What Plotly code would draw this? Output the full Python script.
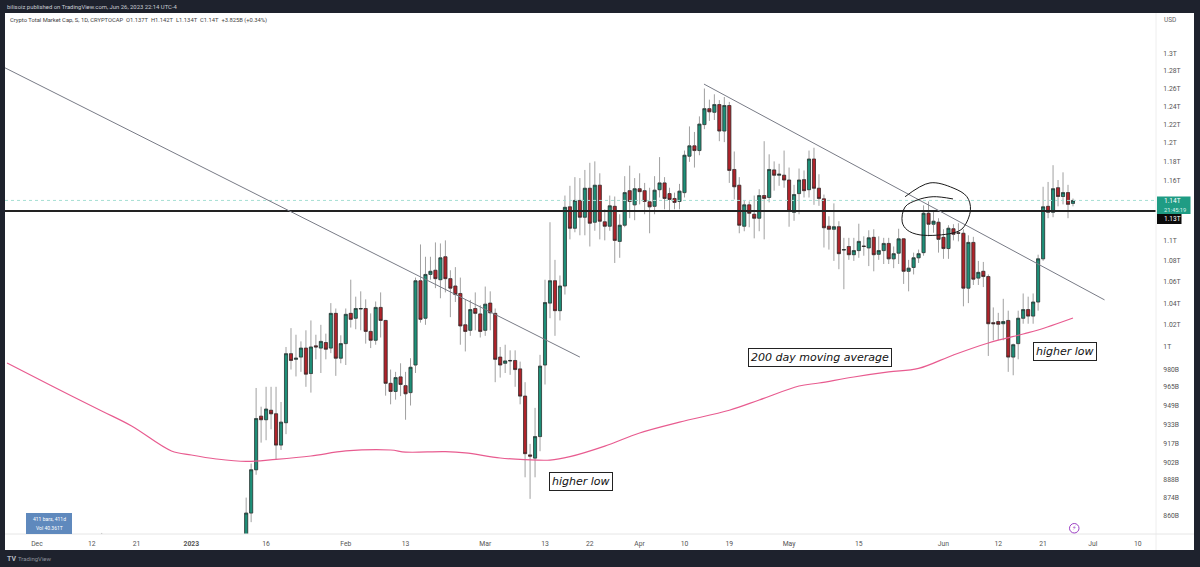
import numpy as np
import pandas as pd
import plotly.graph_objects as go

# ---------- data (billions USD) ----------
dates = ["2022-12-14"] + [d.strftime("%Y-%m-%d") for d in pd.date_range("2023-01-12", "2023-06-27")]

opens = [840,
 842,862,896,940,937,945,942,916,934.5,994,
 989,991,999,976.5,1001,999,1004,999,1030.5,990,
 1003,1030.5,1026,1034.5,1035,1014,1006,1036,1024,968,
 961,973.6,966,960,984,1061,1026,1067,1071,1062,
 1084,1063,1056,1049,1020,1015,1035,1030,1015,1040,
 1030.5,991,985.5,987.5,988,980.6,957,908,905.4,923,
 984,1040,1061,1033,1056,1133.5,1112,1140,1123,1152.5,
 1118,1155.6,1118.4,1114,1134,1099,1115,1150,1135.5,1152,
 1150,1138.6,1134,1151,1158,1147,1142,1139,1148,1186,
 1197,1192,1220,1237.5,1233.5,1242,1213,1241,1172,1155.6,
 1114,1135.5,1126,1122,1145,1143,1171.5,1166,1166,1161,
 1128,1147,1161.4,1151,1183,1152.5,1141.6,1114,1111,1113.5,
 1090.5,1094,1086,1090,1094.5,1092.6,1103,1086.4,1090,1097,
 1082,1087.5,1101.5,1070,1073.7,1083,1088,1127,1116,1118,
 1103,1092,1111.5,1107.5,1107,1054,1098,1063.5,1070,1065,
 1022,1023,1021,1024,991,1003,1026,1034,1028,1041,
 1082,1134,1128,1153,1144,1148,1137]

highs = [846.8,
 874,901,964,948,965,965,965,952,1000,1017,
 1011,1005,1015,1024,1011,1020,1012,1040,1035,1010.5,
 1035,1062,1046,1051,1043.5,1030.5,1041.5,1050,1024.5,980,
 978,985.5,978,990,1064,1096,1084,1084,1098,1097,
 1100,1071,1074,1064,1043,1043,1050,1038,1055.5,1051,
 1035,1000,1002,997,997,987,969,917,947,993,
 1062,1118,1081,1066,1145,1155,1164,1163,1171.5,1179,
 1180.5,1168,1131,1145,1144,1126,1165,1176,1163,1168,
 1158,1153,1165,1185,1164,1153,1148,1157,1192,1218,
 1212,1229,1260,1247.5,1253.5,1247,1250.5,1245,1191,1164,
 1140,1139,1145,1151.5,1202,1188,1180.5,1178,1192,1174,
 1156,1173,1171,1192,1195,1167,1146,1124,1137,1119,
 1102.5,1102.5,1102.5,1116.5,1104,1110,1111,1104,1102.5,1102.5,
 1094,1111.5,1102,1081,1088,1091,1135,1139,1130,1122,
 1111,1115,1116,1117,1111,1105,1103.5,1080,1079,1067,
 1036,1031,1044,1033,1003,1033,1049,1046,1049,1086,
 1154,1159,1176.5,1161,1169,1156,1142]

lows = [830,
 834,855,892,918,920,929,904,912,925,980,
 974,978,965,960,989,977,989,994.5,974.5,985.5,
 984,1017.5,1016,1015,1003,999,1002,1008.5,957.4,950,
 954,957,937,949,977,1022,1020,1062,1054,1044.5,
 1050,1027,1041,1002,996,1010,1015,1008.5,1010,1015,
 969,973,977,975.4,965,950,890,873,890,911,
 967,1026,1010,1024,1048,1101,1108,1105,1105,1094,
 1109.5,1101,1100,1109.5,1078,1083,1113,1122,1120,1136,
 1126,1107,1126,1143,1131,1129,1131,1131,1143,1180,
 1174,1187,1215,1224,1225,1202,1201,1158,1141,1107,
 1109,1113,1102,1109,1101,1138,1150,1155,1153,1113.5,
 1119.4,1126,1143,1143,1135.5,1134.5,1093,1091,1080,1072,
 1053,1081,1080,1083,1085,1075,1070,1081,1077,1077,
 1073,1077,1058,1051,1067,1078,1085,1104,1107.5,1088,
 1082,1082,1100,1099,1037,1040,1057,1057,1055,992,
 1006,1006,1006,978,975,989,1021,1021,1021,1033,
 1080,1122,1123,1134,1136,1122,1134]

closes = [838,
 862,896,938,937,946,942,916,935,994,988,
 990,999,976,1000,1000,1005,998,1030.5,990,1003,
 1029.6,1025,1035,1035,1014,1006,1036,1024,968,961,
 973,967,959,982,1061,1025,1067,1070,1063,1083,
 1063,1054,1048,1019,1014,1034,1030.5,1014,1039,1031,
 989,984,987.6,988,980,957,909,907,923,983,
 1040.5,1061,1033,1056,1133,1112,1140,1123,1152.5,1117,
 1155.6,1119,1114,1134.5,1100,1115,1148,1139,1152,1149,
 1139,1133.5,1150.5,1158,1142,1141,1138,1149.5,1187,1197,
 1192,1220.5,1237.5,1234,1242,1213,1241,1171,1154,1115,
 1135.5,1127,1122,1145,1142,1172,1166,1167,1161,1129,
 1146,1161,1150,1183,1152.5,1142,1112.5,1111,1113.5,1087,
 1091,1086,1090,1099,1094,1102.5,1086,1090,1097,1082,
 1087,1101.5,1070,1073,1083,1087,1127,1116,1119,1101,
 1092,1112,1106,1107,1054,1098,1062.5,1069,1065,1021,
 1021,1020.5,1023,991,1002,1026,1034,1028,1041,1082,
 1133.5,1128,1152,1144,1148,1136,1140]

ma200_dates = ["2022-11-25","2022-12-04","2022-12-14","2022-12-20","2022-12-28","2023-01-01",
               "2023-01-06","2023-01-12","2023-01-18","2023-01-25","2023-02-01","2023-02-10",
               "2023-02-13","2023-02-21","2023-02-25","2023-03-04","2023-03-09","2023-03-14",
               "2023-03-18","2023-03-25","2023-04-01","2023-04-09","2023-04-19","2023-04-25",
               "2023-05-03","2023-05-07","2023-05-14","2023-05-21","2023-05-27","2023-06-03",
               "2023-06-10","2023-06-17","2023-06-20","2023-06-27"]
ma200_values = [985.8,965.7,944.4,931.8,911.2,907.9,
                904.7,902.7,904.4,907.1,911.2,912,
                910.3,910.6,909.6,905.5,904.2,903.8,
                906.6,915.2,926,935,945,953.7,
                965.7,968.3,973.5,977.9,981,992.9,
                1003.6,1011.7,1015.3,1026.3]

trend1_dates = ["2022-11-24 14:00","2023-03-20 00:00"]
trend1_values = [1283.5,991]
trend2_dates = ["2023-04-13 22:00","2023-07-03 08:00"]
trend2_values = [1265,1043]

level_dates = ["2022-11-24 14:00","2023-07-13 16:00"]
support_level = [1129.3,1129.3]
last_price = [1140,1140]

circle_dates = ["2023-05-24 07:00","2023-05-29 07:00","2023-06-02 22:00","2023-06-05 17:00","2023-06-06 10:00",
                "2023-06-04 22:00","2023-06-02 22:00","2023-05-27 07:00","2023-05-24 17:00","2023-05-23 17:00",
                "2023-05-24 07:00","2023-05-26 17:00","2023-05-29 22:00","2023-06-02 22:00"]
circle_values = [1143.8,1158,1152.8,1143.8,1130.4,
                 1112.3,1107.3,1105.4,1110.3,1118.3,
                 1133.4,1140.4,1143.8,1141.5]

x_tick_dates = ["2022-12-01","2022-12-12","2022-12-21","2023-01-01","2023-01-16","2023-02-01","2023-02-13",
                "2023-03-01","2023-03-13","2023-03-22","2023-04-01","2023-04-10","2023-04-19","2023-05-01",
                "2023-05-15","2023-06-01","2023-06-12","2023-06-21","2023-07-01","2023-07-10"]
x_tick_text = ["Dec","12","21","<b>2023</b>","16","Feb","13","Mar","13","22","Apr","10","19","May",
               "15","Jun","12","21","Jul","10"]
y_tick_vals = [1300,1280,1260,1240,1220,1200,1180,1160,1100,1080,1060,1040,1020,1000,
               980,965,949,933,917,902,888,874,860]
y_tick_text = ["1.3T","1.28T","1.26T","1.24T","1.22T","1.2T","1.18T","1.16T","1.1T","1.08T","1.06T",
               "1.04T","1.02T","1T","980B","965B","949B","933B","917B","902B","888B","874B","860B"]

# ---------- styling ----------
GREEN, RED, EDGE = "#1e8f78", "#b0232a", "#262626"
DARK = "#1e222d"
FONT = "Roboto"
W, H = 1200, 567
L, R, T, B = 5, 1156, 13, 534

def fx(px):
    return (px - L) / (R - L)

def fy(py):
    return (B - py) / (B - T)

o, c = np.array(opens), np.array(closes)
fig = go.Figure()

# wicks in grey
fig.add_trace(go.Candlestick(x=dates, open=opens, high=highs, low=lows, close=closes,
                             increasing=dict(line=dict(color="#a0a0a0", width=1), fillcolor="#a0a0a0"),
                             decreasing=dict(line=dict(color="#a0a0a0", width=1), fillcolor="#a0a0a0"),
                             whiskerwidth=0, hoverinfo="skip", showlegend=False))
# bodies with dark outline
fig.add_trace(go.Candlestick(x=dates, open=opens, close=closes,
                             high=np.maximum(o, c), low=np.minimum(o, c),
                             increasing=dict(line=dict(color=EDGE, width=0.6), fillcolor=GREEN),
                             decreasing=dict(line=dict(color=EDGE, width=0.6), fillcolor=RED),
                             whiskerwidth=0, hoverinfo="skip", showlegend=False))

def line(xs, ys, color, width, dash="solid", shape="linear"):
    fig.add_trace(go.Scatter(x=xs, y=ys, mode="lines", hoverinfo="skip", showlegend=False,
                             line=dict(color=color, width=width, dash=dash, shape=shape)))

line(level_dates, last_price, "#a6dfd3", 1, "dot")
line(level_dates, support_level, "#222222", 2.2)
line(ma200_dates, ma200_values, "#e85c90", 1.2, shape="spline")
line(trend1_dates, trend1_values, "#787b86", 1)
line(trend2_dates, trend2_values, "#787b86", 1)
line(circle_dates, circle_values, "#1a1a1a", 1, shape="spline")

shapes = [
    dict(type="rect", xref="paper", yref="paper", x0=fx(5), x1=fx(1194), y0=fy(550), y1=fy(13),
         fillcolor="white", line_width=0, layer="below"),
    dict(type="line", xref="paper", yref="paper", x0=fx(1156), x1=fx(1156), y0=fy(550), y1=fy(13),
         line=dict(color="#eeeeee", width=1)),
    dict(type="line", xref="paper", yref="paper", x0=fx(5), x1=fx(1194), y0=fy(534), y1=fy(534),
         line=dict(color="#e6e6e6", width=1)),
    dict(type="rect", xref="paper", yref="paper", x0=fx(1157), x1=fx(1190.5), y0=fy(214), y1=fy(196.5),
         fillcolor="#1f9c84", line_width=0),
    dict(type="rect", xref="paper", yref="paper", x0=fx(1157), x1=fx(1181.5), y0=fy(224), y1=fy(214),
         fillcolor="#0b0b0b", line_width=0),
    dict(type="rect", xref="paper", yref="paper", x0=fx(26), x1=fx(72), y0=fy(534), y1=fy(513),
         fillcolor="#5f89bd", line_width=0),
    dict(type="circle", xref="paper", yref="paper", x0=fx(1069.5), x1=fx(1079), y0=fy(533), y1=fy(523.5),
         fillcolor="white", line=dict(color="#9c3fc4", width=1)),
]

def note(px, py, text, size=6.5, color="#555555", anchor="left", **kw):
    return dict(xref="paper", yref="paper", x=fx(px), y=fy(py), text=text, showarrow=False,
                xanchor=anchor, yanchor="middle", font=dict(family=kw.pop("family", FONT), size=size, color=color), **kw)

def boxed(px, py, text):
    return note(px, py, "<i>" + text + "</i>", size=11, color="#111111", anchor="center",
                family="DejaVu Sans", bgcolor="white", bordercolor="#222222", borderwidth=1, borderpad=2)

annotations = [
    note(5, 7, "bilisoiz published on TradingView.com, Jun 26, 2023 22:14 UTC-4", size=5.9, color="#c9ccd3"),
    note(8, 20, "Crypto Total Market Cap, S, 1D, CRYPTOCAP&nbsp;&nbsp;O1.137T&nbsp;&nbsp;H1.142T&nbsp;&nbsp;L1.134T&nbsp;&nbsp;C1.14T&nbsp;&nbsp;+3.825B (+0.34%)", size=5.8, color="#444444"),
    note(1162, 20, "USD", size=6.5, color="#666666"),
    note(1162, 201, "1.14T", size=6.5, color="white"),
    note(1162, 210, "21:45:19", size=5.8, color="#d8f2ec"),
    note(1162, 219, "1.13T", size=6.5, color="white"),
    note(49, 518.5, "411 bars, 411d", size=5, color="white", anchor="center"),
    note(49, 528, "Vol 40.361T", size=5, color="white", anchor="center"),
    note(1074.3, 528.2, "⚡", size=6.5, color="#9c3fc4", anchor="center", family="DejaVu Sans"),
    note(5, 558.5, "<b>TV</b>", size=7, color="#b8bcc4"),
    note(16, 558.5, "TradingView", size=6, color="#8d919b"),
    boxed(819.5, 357.5, "200 day moving average"),
    boxed(1064.5, 351.5, "higher low"),
    boxed(580.5, 481.5, "higher low"),
]

fig.update_layout(
    width=W, height=H, autosize=False,
    margin=dict(l=L, r=W - R, t=T, b=H - B, pad=0),
    paper_bgcolor=DARK, plot_bgcolor="white", boxgap=0.12, boxmode="overlay",
    shapes=shapes, annotations=annotations, showlegend=False,
    font=dict(family=FONT, size=6.5, color="#666666"),
    xaxis=dict(type="date", range=["2022-11-24 14:00", "2023-07-13 16:00"], rangeslider=dict(visible=False),
               tickmode="array", tickvals=x_tick_dates, ticktext=x_tick_text,
               showgrid=False, zeroline=False, showline=False,
               ticks="outside", ticklen=3, tickcolor="rgba(0,0,0,0)", tickangle=0,
               tickfont=dict(family=FONT, size=6.8, color="#555555")),
    yaxis=dict(type="log", side="right", range=[np.log10(846), np.log10(1348)],
               tickmode="array", tickvals=y_tick_vals, ticktext=y_tick_text,
               showgrid=False, zeroline=False, showline=False,
               ticks="outside", ticklen=5, tickcolor="rgba(0,0,0,0)",
               tickfont=dict(family=FONT, size=6.8, color="#555555")),
)

fig.write_html("out.html", config={"displayModeBar": False},
               post_script="document.body.style.margin='0';document.body.style.overflow='hidden';")
